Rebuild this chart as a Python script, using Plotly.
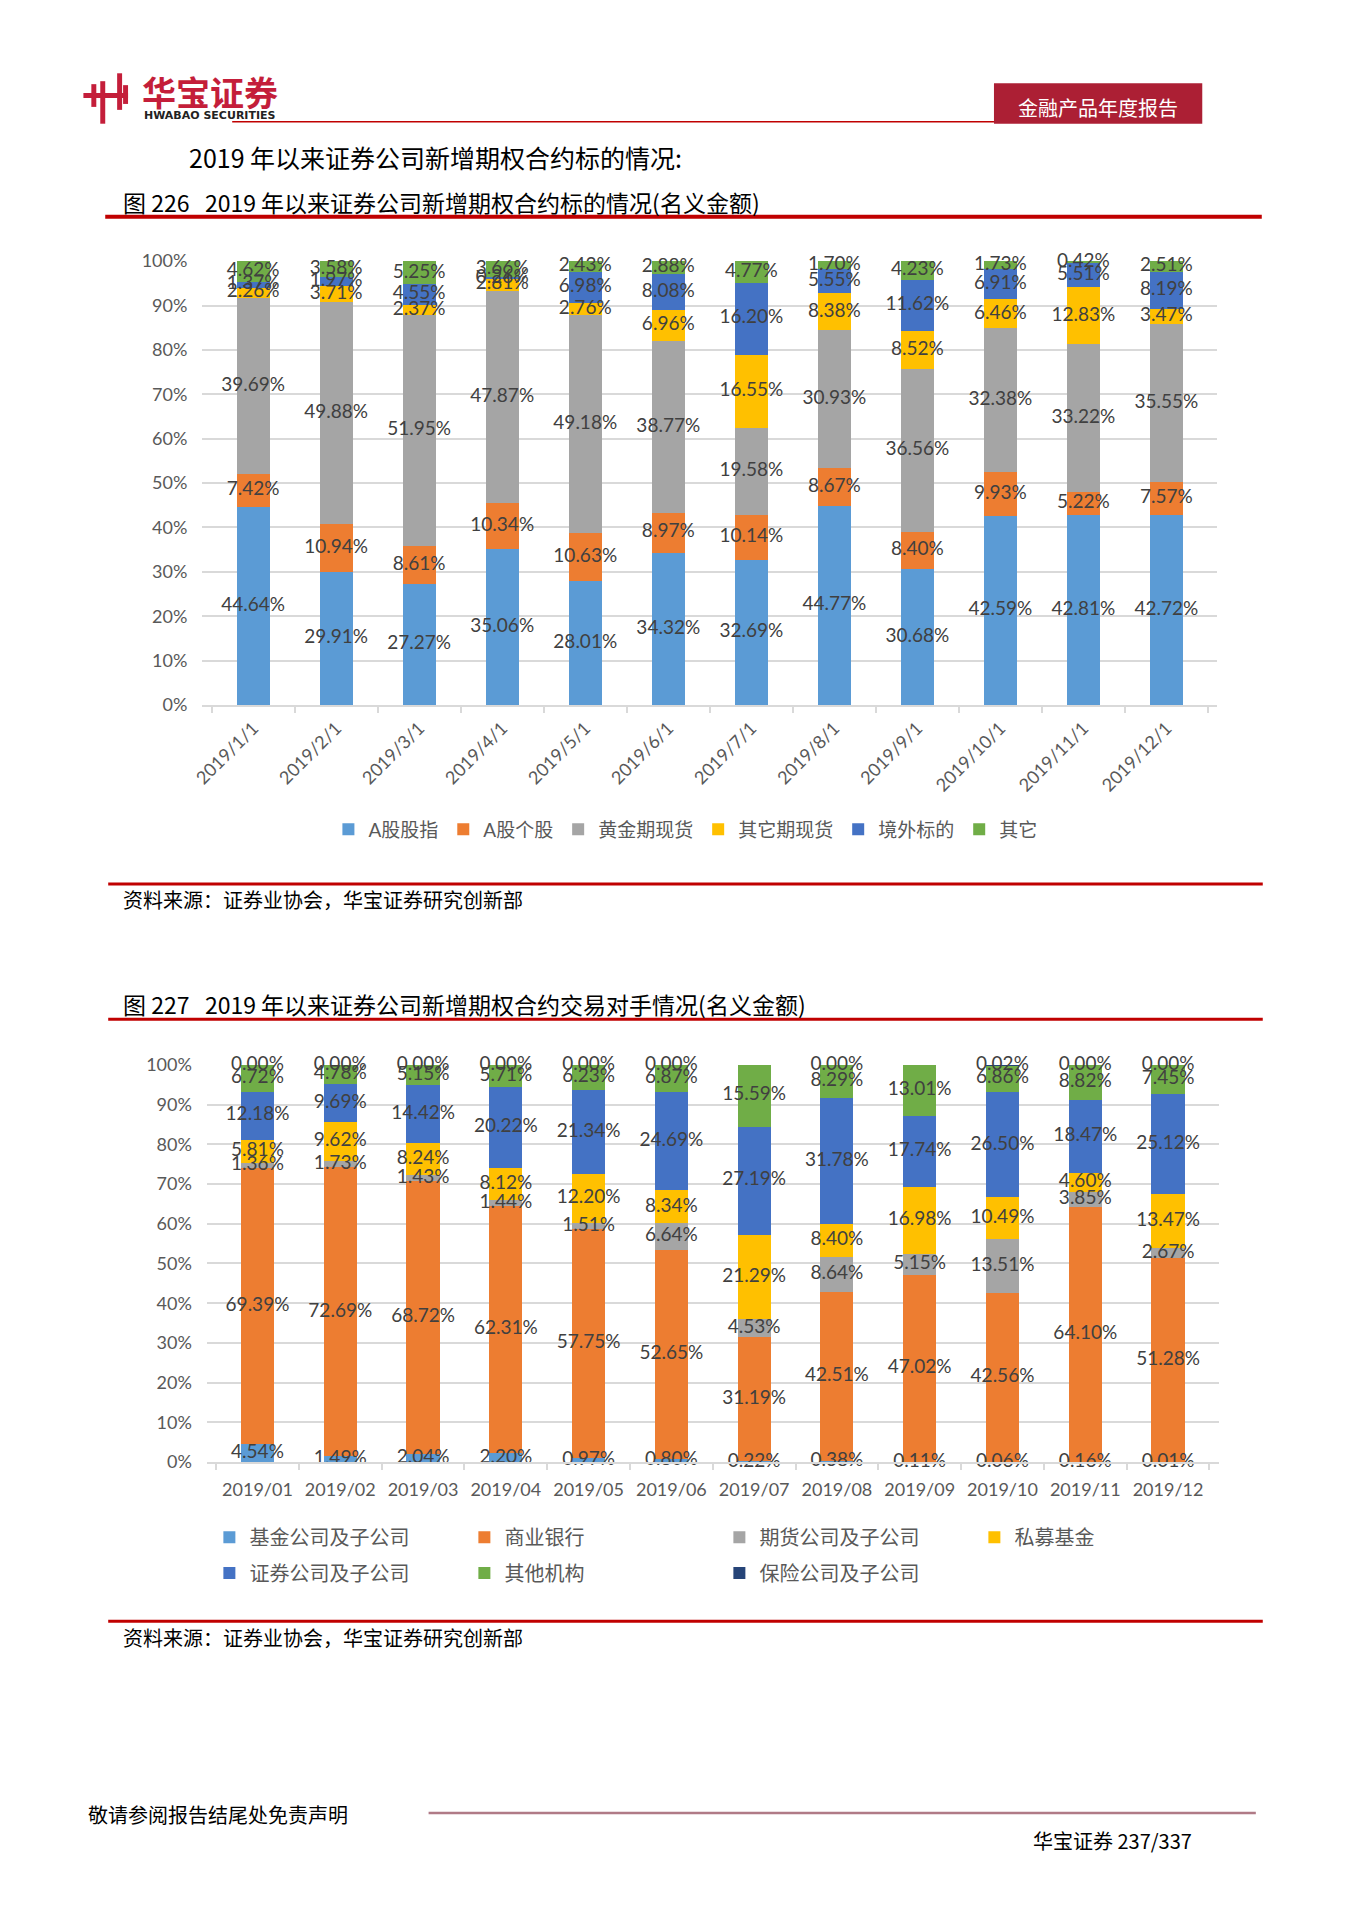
import numpy as np
import plotly.graph_objects as go

W, H = 1357, 1920

# ---------------- data: chart 1 (图 226) ----------------
months1 = ["2019/1/1", "2019/2/1", "2019/3/1", "2019/4/1", "2019/5/1", "2019/6/1",
           "2019/7/1", "2019/8/1", "2019/9/1", "2019/10/1", "2019/11/1", "2019/12/1"]
names1 = ["A股股指", "A股个股", "黄金期现货", "其它期现货", "境外标的", "其它"]
a_index = [44.64, 29.91, 27.27, 35.06, 28.01, 34.32, 32.69, 44.77, 30.68, 42.59, 42.81, 42.72]
a_stock = [7.42, 10.94, 8.61, 10.34, 10.63, 8.97, 10.14, 8.67, 8.40, 9.93, 5.22, 7.57]
gold = [39.69, 49.88, 51.95, 47.87, 49.18, 38.77, 19.58, 30.93, 36.56, 32.38, 33.22, 35.55]
other_fut = [2.26, 3.71, 2.37, 2.81, 2.76, 6.96, 16.55, 8.38, 8.52, 6.46, 12.83, 3.47]
overseas = [1.37, 1.97, 4.55, 0.26, 6.98, 8.08, 16.20, 5.55, 11.62, 6.91, 5.51, 8.19]
others1 = [4.62, 3.58, 5.25, 3.66, 2.43, 2.88, 4.77, 1.70, 4.23, 1.73, 0.42, 2.51]

# ---------------- data: chart 2 (图 227) ----------------
months2 = ["2019/01", "2019/02", "2019/03", "2019/04", "2019/05", "2019/06",
           "2019/07", "2019/08", "2019/09", "2019/10", "2019/11", "2019/12"]
names2 = ["基金公司及子公司", "商业银行", "期货公司及子公司", "私募基金",
          "证券公司及子公司", "其他机构", "保险公司及子公司"]
fund = [4.54, 1.49, 2.04, 2.20, 0.97, 0.80, 0.22, 0.38, 0.11, 0.06, 0.16, 0.01]
bank = [69.39, 72.69, 68.72, 62.31, 57.75, 52.65, 31.19, 42.51, 47.02, 42.56, 64.10, 51.28]
futures_co = [1.36, 1.73, 1.43, 1.44, 1.51, 6.64, 4.53, 8.64, 5.15, 13.51, 3.85, 2.67]
private_fund = [5.81, 9.62, 8.24, 8.12, 12.20, 8.34, 21.29, 8.40, 16.98, 10.49, 4.60, 13.47]
securities = [12.18, 9.69, 14.42, 20.22, 21.34, 24.69, 27.19, 31.78, 17.74, 26.50, 18.47, 25.12]
other_inst = [6.72, 4.78, 5.15, 5.71, 6.23, 6.87, 15.59, 8.29, 13.01, 6.86, 8.82, 7.45]
insurance = [0.00, 0.00, 0.00, 0.00, 0.00, 0.00, 0.00, 0.00, 0.00, 0.02, 0.00, 0.00]

y_ticks = [0, 10, 20, 30, 40, 50, 60, 70, 80, 90, 100]
y_ticktext = [f"{v}%" for v in y_ticks]

colors1 = ["#5B9BD5", "#ED7D31", "#A5A5A5", "#FFC000", "#4472C4", "#70AD47"]
colors2 = ["#5B9BD5", "#ED7D31", "#A5A5A5", "#FFC000", "#4472C4", "#70AD47", "#264478"]

CJK = "Noto Sans CJK SC"
NUM = "Lato, 'Noto Sans CJK SC'"
RED = "#C00000"


def px(x):
    return x / W


def py(y):
    return 1 - y / H


fig = go.Figure()


def add_stack(series, names, colors, cats, xa, ya, legends):
    cum = np.zeros(len(cats))
    for vals, name, col, lg in zip(series, names, colors, legends):
        v = np.array(vals, dtype=float)
        fig.add_trace(go.Bar(x=cats, y=v, name=name, marker=dict(color=col, line=dict(width=0)),
                             xaxis=xa, yaxis=ya, legend=lg, hoverinfo="skip"))
        centers = np.round(cum + v / 2, 6)
        cum = cum + v
        fig.add_trace(go.Scatter(x=cats, y=centers, mode="text",
                                 text=[f"{t:.2f}%" for t in v],
                                 textposition="middle center",
                                 textfont=dict(family=NUM, size=19, color="#404040"),
                                 xaxis=xa, yaxis=ya, showlegend=False, hoverinfo="skip",
                                 cliponaxis=False))


add_stack([a_index, a_stock, gold, other_fut, overseas, others1], names1, colors1,
          months1, "x", "y", ["legend"] * 6)
add_stack([fund, bank, futures_co, private_fund, securities, other_inst, insurance], names2, colors2,
          months2, "x2", "y2", ["legend2"] * 4 + ["legend3"] * 3)

axis_common_y = dict(range=[0, 100.001], tickvals=y_ticks, ticktext=y_ticktext, showgrid=True,
                     gridcolor="#D9D9D9", gridwidth=1.5, zeroline=False, showline=False,
                     tickfont=dict(family=NUM, size=18, color="#595959"), fixedrange=True)
axis_common_x = dict(type="category", showline=True, linecolor="#D9D9D9", linewidth=1.5,
                     ticks="outside", tickson="boundaries", ticklen=6, tickcolor="#D9D9D9",
                     tickwidth=1.5, showgrid=False,
                     tickfont=dict(family=NUM, size=18, color="#595959"), fixedrange=True)

fig.update_layout(
    width=W, height=H, margin=dict(l=0, r=0, t=0, b=0),
    paper_bgcolor="white", plot_bgcolor="white",
    barmode="stack", bargap=0.6,
    xaxis=dict(domain=[px(193), px(1216)], anchor="y", tickangle=-45,
               ticklabelstandoff=4, **axis_common_x),
    yaxis=dict(domain=[py(701), py(252)], anchor="x", ticklabelstandoff=14, **axis_common_y),
    xaxis2=dict(domain=[px(197.5), px(1217.5)], anchor="y2", tickangle=0,
                ticklabelstandoff=10, **axis_common_x),
    yaxis2=dict(domain=[py(1467), py(1065)], anchor="x2", ticklabelstandoff=14, **axis_common_y),
    legend=dict(orientation="h", x=px(320), xanchor="left", y=py(827), yanchor="middle",
                font=dict(family=NUM, size=19, color="#595959"), traceorder="normal",
                bgcolor="rgba(0,0,0,0)"),
    legend2=dict(orientation="h", x=px(200), xanchor="left", y=py(1543), yanchor="middle",
                 font=dict(family=CJK, size=20, color="#595959"), traceorder="normal",
                 entrywidth=210, bgcolor="rgba(0,0,0,0)"),
    legend3=dict(orientation="h", x=px(200), xanchor="left", y=py(1579), yanchor="middle",
                 font=dict(family=CJK, size=20, color="#595959"), traceorder="normal",
                 entrywidth=210, bgcolor="rgba(0,0,0,0)"),
)

shapes = []


def hline(x0, x1, y, color, width):
    shapes.append(dict(type="line", xref="paper", yref="paper", x0=px(x0), x1=px(x1),
                       y0=py(y), y1=py(y), line=dict(color=color, width=width)))


def rect(x0, y0, x1, y1, color):
    shapes.append(dict(type="rect", xref="paper", yref="paper", x0=px(x0), x1=px(x1),
                       y0=py(y1), y1=py(y0), fillcolor=color, line=dict(width=0)))


# header
LOGO = "#C41E3A"
rect(73, 82, 118, 87, LOGO)
rect(81, 73, 86, 96, LOGO)
rect(90, 70, 95, 113, LOGO)
rect(107, 62, 112, 99, LOGO)
rect(113, 74, 118, 93, LOGO)
hline(223, 991, 111, RED, 1.5)
rect(991, 72, 1201, 113, "#AC1F34")
# section lines
hline(95, 1261, 207, RED, 4)
hline(98, 1262, 882, RED, 3)
hline(98, 1262, 1019, RED, 3)
hline(98, 1262, 1628, RED, 3)
# footer
hline(421, 1255, 1822, "#B07A86", 2.5)

annotations = []


def text(x, y, s, size, color="#000000", family=CJK, anchor="left", weight="normal"):
    annotations.append(dict(xref="paper", yref="paper", x=px(x), y=py(y), text=s,
                            showarrow=False, xanchor=anchor, yanchor="middle",
                            font=dict(family=family, size=size, color=color, weight=weight)))


text(130, 80, "华宝证券", 34, LOGO, weight="bold")
text(132, 105, "HWABAO SECURITIES", 11, "#222222", family="DejaVu Sans", weight="bold")
text(1096, 97, "金融产品年度报告", 20, "#FFFFFF", anchor="center")
text(177, 147, "2019 年以来证券公司新增期权合约标的情况:", 25)
text(111, 192, "图 226\u00a0\u00a0\u00a02019 年以来证券公司新增期权合约标的情况(名义金额)", 23)
text(111, 898, "资料来源：证券业协会，华宝证券研究创新部", 20)
text(111, 1004, "图 227\u00a0\u00a0\u00a02019 年以来证券公司新增期权合约交易对手情况(名义金额)", 23)
text(111, 1644, "资料来源：证券业协会，华宝证券研究创新部", 20)
text(76, 1823, "敬请参阅报告结尾处免责声明", 20)
text(1028, 1850, "华宝证券 237/337", 20)

fig.update_layout(shapes=shapes, annotations=annotations)

fig.write_html(
    "out.html",
    config={"displayModeBar": False},
    post_script=("document.documentElement.style.margin='0';"
                 "document.body.style.margin='0';document.body.style.padding='0';"
                 "document.body.style.overflow='hidden';window.scrollTo(0,0);"),
)
